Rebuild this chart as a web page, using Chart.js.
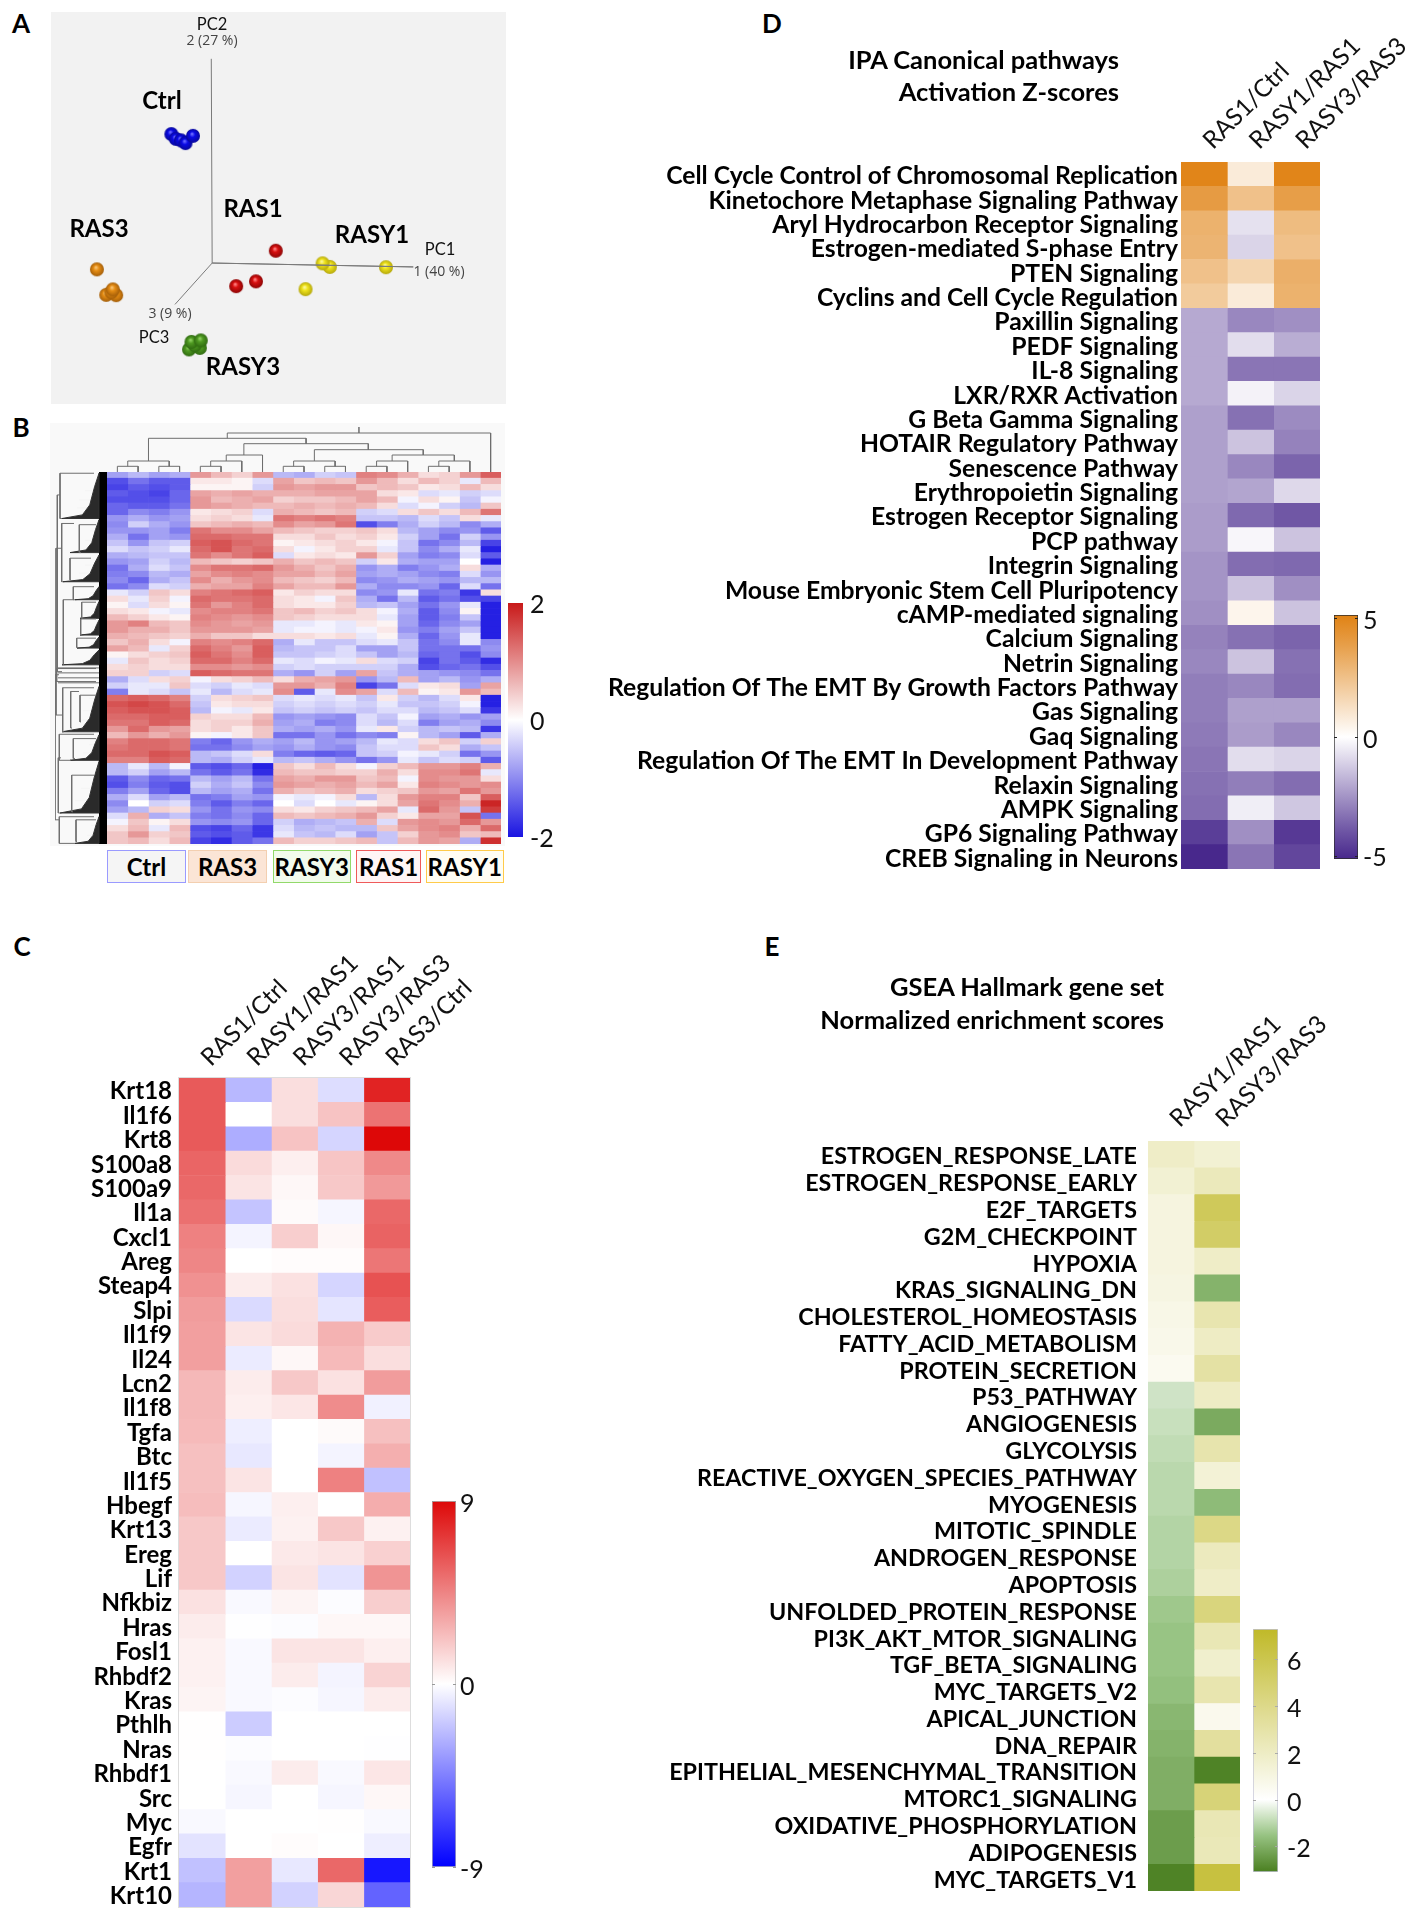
<!DOCTYPE html>
<html>
<head>
<meta charset="utf-8">
<title>Figure panels</title>
<script src="https://cdn.jsdelivr.net/npm/chart.js@4"></script>
<style>
  html, body { margin: 0; background: #fff; }
  #page { position: relative; width: 1414px; height: 1920px; overflow: hidden; font-family: Lato, sans-serif; color: #000; }
  #page canvas { position: absolute; display: block; }
  .lbl { position: absolute; white-space: nowrap; line-height: 1; }
  .box { position: absolute; box-sizing: border-box; border-width: 1.5px; border-style: solid; }
</style>
</head>
<body>
<div id="page"></div>
<script>
// ── Panel A: PCA scores ────────────────────────────────────────────────────
const pcaCtrl  = [[-13.6,43],[-12.1,41.4],[-10.4,40.9],[-8.9,40],[-6.4,42.4]];
const pcaRas1  = [[21.2,4.1],[8,-7.7],[14.6,-6.1]];
const pcaRasy1 = [[39.2,-1.3],[36.8,-0.1],[57.9,-1.4],[31.1,-8.7]];
const pcaRas3  = [[-38.4,-2.1],[-35.3,-10.6],[-32,-10.7],[-33.6,-9.7],[-33.1,-8.8]];
const pcaRasy3 = [[-7.7,-28.8],[-4.1,-28.3],[-5.8,-27.4],[-6.9,-26.3],[-3.8,-25.8]];
const pcaAxes  = [[-0.3,68.1],[0,0],[67,-1.3],[0,0],[-12.4,-13.8]];

// ── Panel B: clustered expression heatmap (z-score x10, one list per row) ──
const bGroups = ['Ctrl','RAS3','RASY3','RAS1','RASY1'];
const bRows = [
  [-8,-6,-8,-7,9,6,4,9,-6,-7,-4,-5,11,10,7,3,4,9,14],
  [-15,-12,-14,-14,2,2,1,-3,8,5,6,5,9,6,3,6,4,-2,6],
  [-16,-14,-15,-14,1,1,1,-4,9,8,9,9,5,6,5,2,3,6,3],
  [-14,-15,-16,-13,8,7,8,7,7,7,8,8,8,3,2,-3,-2,-4,-3],
  [-15,-15,-15,-13,9,6,7,8,4,5,5,6,8,6,-1,3,1,-5,-1],
  [-13,-14,-14,-12,9,8,7,6,6,7,6,7,6,3,-3,-1,-4,-6,5],
  [-13,-10,-11,-9,2,3,4,-3,7,6,5,6,-4,-3,3,5,3,6,12],
  [-9,-7,-9,-8,3,4,3,-2,12,11,12,11,-5,-5,-6,-3,-5,3,-2],
  [-10,-4,-7,-9,5,6,7,6,10,8,9,12,-15,-11,-7,-4,-6,-10,-7],
  [-9,-9,-8,-11,12,10,10,8,6,5,4,4,5,3,-6,-8,-10,-9,-14],
  [-7,-12,-8,-9,13,13,12,12,3,3,5,3,4,2,-4,-8,-12,-4,-9],
  [-5,-9,-5,-4,14,15,13,12,1,2,3,4,2,-1,-5,-12,-10,-6,-16],
  [-3,-5,-4,-2,13,15,12,13,3,-1,2,4,4,-2,-5,-10,-7,-2,-19],
  [-7,-6,-5,-5,12,10,12,14,-3,2,3,2,9,4,-8,-11,-10,-3,-14],
  [-9,-8,-4,-6,6,5,4,5,7,5,6,5,-4,2,-7,-8,-8,0,-19],
  [-12,-7,-3,-5,10,12,12,13,9,7,5,7,-9,-7,-11,-9,-7,3,-7],
  [-11,-10,-6,-7,8,10,11,10,8,8,6,8,-8,-7,-8,-10,-11,-3,-9],
  [-10,-13,-7,-5,10,7,9,10,6,5,4,6,-10,-9,-7,-8,-9,-6,-6],
  [-12,-10,-3,-4,7,8,8,11,8,6,6,9,-7,-10,-10,-9,-13,-3,-12],
  [-2,-4,5,3,11,12,13,14,2,4,3,3,-10,-9,-2,-12,-11,-17,3],
  [3,-2,4,-1,13,12,12,13,3,2,-1,5,-7,-12,-6,-14,-12,-15,-16],
  [1,-3,3,1,12,9,11,13,3,2,2,4,-6,-5,-8,-12,-9,-2,-19],
  [3,2,-1,-2,10,11,11,12,5,6,4,5,3,-1,-7,-14,-10,1,-19],
  [6,4,2,1,11,10,9,10,5,4,3,3,3,-2,-8,-14,-11,-5,-19],
  [9,11,6,5,10,9,8,9,-2,-2,-1,-2,2,1,-8,-13,-10,-8,-19],
  [9,7,7,5,9,9,9,8,-2,-1,-1,-2,-1,2,-9,-11,-8,-5,-19],
  [7,6,5,4,7,5,5,3,3,3,2,3,-2,1,-7,-13,-9,-2,-19],
  [5,7,3,-1,11,10,11,13,-7,-2,-5,-5,-3,-2,-5,-12,-10,-2,-10],
  [8,6,-2,4,13,11,9,14,-6,-5,-5,-3,-8,-8,-5,-12,-12,-12,-9],
  [1,3,4,5,14,12,10,14,-5,-5,-4,-3,-5,-8,-6,-13,-12,-15,-10],
  [-2,5,3,4,13,13,11,13,-2,-3,-1,-2,3,-3,-4,-16,-12,-14,-18],
  [3,4,3,3,10,10,9,10,-4,-3,-4,-4,-4,-4,-7,-15,-13,-12,-15],
  [4,4,-4,-3,14,13,12,12,-7,-9,-4,-8,8,-5,-7,-8,-9,-10,-12],
  [-7,-3,3,4,-1,3,4,6,3,7,8,9,-9,-6,6,-8,-6,-9,-7],
  [-4,-2,-2,5,-3,-4,-2,-3,9,9,7,11,-16,-12,-3,2,3,-8,8],
  [-11,-2,-3,-5,-2,-6,-3,-2,10,-14,-2,10,8,-3,6,1,2,9,6],
  [13,14,13,11,-4,3,4,5,-3,-2,-3,-2,-5,2,-4,-6,-3,2,-19],
  [15,16,15,13,-5,2,3,3,-4,-3,-4,-3,-4,-2,-5,-5,-4,-1,-19],
  [14,15,15,14,-6,-1,-2,2,-5,-4,-5,-4,-5,-3,-3,-6,-5,-3,-17],
  [13,13,14,14,4,3,3,6,-9,-8,-9,-10,-3,-5,-1,-8,-7,-9,-8],
  [12,12,14,13,3,4,4,7,-8,-7,-11,-10,-3,-6,-3,-11,-8,-7,-10],
  [9,13,9,8,3,4,2,5,-7,-8,-7,-9,-2,2,-4,-6,-5,-6,-17],
  [6,9,7,9,1,-1,2,5,-12,-12,-9,-12,-10,-11,1,-6,-8,-14,-7],
  [11,13,13,12,-11,-13,-9,-7,-8,-6,-9,-8,-6,-2,-3,3,5,-4,4],
  [12,13,13,12,-12,-12,-10,-8,-9,-7,-9,-10,-5,-3,-3,5,3,-7,-5],
  [13,13,15,14,-6,-5,-3,3,-11,-13,-14,-13,-5,-4,-1,-2,-4,-12,-9],
  [11,11,14,13,-6,-7,-4,-2,-6,-5,-7,-9,-12,-9,-2,-5,-3,-4,-14],
  [-6,-2,-6,-1,-14,-15,-13,-19,5,3,6,3,-1,4,6,9,9,11,7],
  [-6,-4,-8,-6,-12,-14,-12,-18,6,5,5,4,4,7,3,10,10,12,-2],
  [-14,-10,-13,-12,-6,-8,-6,-12,8,7,9,9,5,6,-1,10,9,9,3],
  [-15,-11,-14,-15,-4,-7,-5,-10,9,8,7,8,6,8,2,11,10,9,10],
  [-11,-8,-13,-15,-6,-8,-7,-12,7,5,6,7,3,4,5,9,8,12,9],
  [-7,-3,-8,-6,-12,-11,-8,-9,-1,-2,-1,3,-6,3,9,11,11,5,14],
  [-10,0,-4,-3,-11,-14,-11,-13,0,-3,0,-2,1,3,8,12,10,7,19],
  [-8,-6,4,3,-9,-12,-9,-10,3,2,4,5,6,8,-2,13,9,-5,17],
  [-3,7,-7,-5,-11,-12,-10,-13,6,5,6,7,9,4,2,8,8,15,-12],
  [-1,5,1,3,-9,-10,-9,-13,-4,-7,-6,-5,7,-3,9,10,9,13,9],
  [3,6,-2,6,-15,-16,-13,-17,-3,-6,-5,-6,-6,5,8,10,11,7,13],
  [5,9,4,5,-14,-15,-14,-17,-2,-5,-6,-3,-8,-5,4,9,10,5,6],
  [5,6,3,6,-16,-18,-14,-12,6,4,4,5,6,-5,6,9,8,-7,18],
];
// sample tree: [x1, base1, x2, base2, height], x in columns
const bColTree = [
  [0.5,0,1.5,0,5.7],[2.5,0,3.5,0,5.7],[1,5.7,3,5.7,11],
  [4.5,0,5.5,0,5.7],[5,5.7,6.5,0,11],[5.75,11,7.5,0,17],
  [8.5,0,9.5,0,5.7],[10.5,0,11.5,0,5.7],[9,5.7,11,5.7,11],
  [12.5,0,13.5,0,5.7],[13,5.7,14.5,0,11],
  [15.5,0,16.5,0,5.7],[16,5.7,17.5,0,11],[13.75,11,16.75,11,17],
  [10,11,15.25,17,22.3],[6.6,17,12.6,22.3,28.3],[2,11,9.6,28.3,33.7],
  [5.8,33.7,18.5,0,39],[12.15,39,12.15,39,45],
];
// gene tree clusters: [height, first row, last row]
const bRowWedges = [[37,0.2,7.5],[29,7.7,13],[36,13.4,17.7],[24,18.5,20.6],[19,20.9,23.6],[19,23.9,26.3],
  [22,26.6,28.4],[37,28.7,31.1],[37,34.6,41.9],[29,42.4,46.5],[39,46.7,55],[24,55.6,59.9]];
// gene tree merges: [height, top row, bottom row, top arm end, bottom arm end]
const bRowBrackets = [[39,0.2,7.5,5,37],[37.3,8.3,17.7,25,36],[19.7,8.5,13,3,18],[29,13.9,17.4,8,28],[25.7,18.5,20.6,5,24],
  [17.3,21,23.6,3,16],[18.3,23.7,26.3,3,17],[22.3,26.8,28.3,3,21],[35.7,20.6,31,25,35],[42.3,31.7,33.8,3,3],
  [36.3,34.8,41.9,5,35],[28.3,35.4,41.3,20,27],[19,36,40.3,3,18],[39.7,42.3,46.5,5,28],[25.7,43,46.2,3,24],
  [40.7,46.1,55,38,39],[27.3,48.9,54.8,5,26],[39.7,55.6,59.9,5,24],[23,56.1,59.6,3,22],[44,32.7,56.1,40,40],
  [41.7,3.7,32.2,39,37],[43,12.3,39.2,37,36]];
const bLooseLeaves = [31.6,32.4,33.2,34];
// pale gaps between gene branches: [row, from height, to height]
const bRowGaps = [[3,3,14],[4.5,5,20],[5.8,8,22],[9.5,2,9],[11,4,14],[15,4,14],[16.3,8,20],[19.5,2,9],[22,2,7],[25,2,7],[27.6,2,8],
  [36.5,3,10],[38.5,5,16],[40,8,20],[44,2,10],[45.3,6,16],[49,3,12],[51,5,18],[53,8,24],[57,2,8],[58.6,4,12]];

// ── Panel C: log2 fold change ──────────────────────────────────────────────
const cCols = ['RAS1/Ctrl','RASY1/RAS1','RASY3/RAS1','RASY3/RAS3','RAS3/Ctrl'];
const cGenes = ['Krt18','Il1f6','Krt8','S100a8','S100a9','Il1a','Cxcl1','Areg','Steap4','Slpi','Il1f9','Il24','Lcn2','Il1f8','Tgfa','Btc','Il1f5','Hbegf','Krt13','Ereg','Lif','Nfkbiz','Hras','Fosl1','Rhbdf2','Kras','Pthlh','Nras','Rhbdf1','Src','Myc','Egfr','Krt1','Krt10'];
const cValues = [
  [6,-2.5,1.2,-1.2,8],[6,0,1.2,2.2,5.1],[6,-2.9,2.2,-1.5,9],[5.6,1.3,0.6,2.1,4.3],[5.5,1,0.3,2,3.7],
  [5.2,-2.1,0.2,-0.3,5.5],[4.6,-0.4,1.8,0.3,5.7],[4.4,0,0.1,0.1,5],[4,0.7,1.1,-1.5,6.3],[3.6,-1.3,1.2,-0.9,5.9],
  [3.5,1,1.3,2.8,1.9],[3.5,-0.7,0.3,2.5,1.2],[2.6,0.7,2,1.1,3.6],[2.6,0.6,0.9,4.2,-0.5],[2.5,-0.6,0,0.2,2.3],
  [2.3,-0.8,0,-0.4,2.9],[2.3,1,0,4.6,-2.2],[2.4,-0.3,0.6,0,3],[2,-0.7,0.5,2,0.5],[2,0,0.8,1,1.7],
  [2,-1.6,1,-1,3.9],[1.1,-0.2,0.4,-0.1,1.8],[0.7,-0.05,-0.1,0.3,0.3],[0.5,-0.2,1,1,0.6],[0.5,-0.2,0.7,-0.4,1.6],
  [0.4,-0.2,-0.1,-0.3,0.7],[0.05,-1.8,0,0,0],[0.05,-0.1,0,0,-0.02],[0,-0.2,0.7,-0.2,0.9],[0,-0.3,0,-0.3,0.3],
  [-0.2,0,0,0.05,-0.2],[-1,0,0.1,0,-0.6],[-2.2,3.5,-0.8,5.5,-8.2],[-2.6,3.5,-1.6,1.5,-5.5],
];

// ── Panel D: IPA activation z-scores ───────────────────────────────────────
const dCols = ['RAS1/Ctrl','RASY1/RAS1','RASY3/RAS3'];
const dPathways = ['Cell Cycle Control of Chromosomal Replication','Kinetochore Metaphase Signaling Pathway','Aryl Hydrocarbon Receptor Signaling','Estrogen-mediated S-phase Entry','PTEN Signaling','Cyclins and Cell Cycle Regulation','Paxillin Signaling','PEDF Signaling','IL-8 Signaling','LXR/RXR Activation','G Beta Gamma Signaling','HOTAIR Regulatory Pathway','Senescence Pathway','Erythropoietin Signaling','Estrogen Receptor Signaling','PCP pathway','Integrin Signaling','Mouse Embryonic Stem Cell Pluripotency','cAMP-mediated signaling','Calcium Signaling','Netrin Signaling','Regulation Of The EMT By Growth Factors Pathway','Gas Signaling','Gaq Signaling','Regulation Of The EMT In Development Pathway','Relaxin Signaling','AMPK Signaling','GP6 Signaling Pathway','CREB Signaling in Neurons'];
const dValues = [
  [4.9,0.8,4.9],[4,2.5,3.9],[3.1,-0.7,2.7],[3,-1,2.5],[2.5,1.7,3.2],[2.1,0.8,3.1],
  [-2,-2.8,-2.6],[-2,-0.8,-1.9],[-2,-3.2,-3.2],[-2,-0.3,-1],[-2.2,-3.3,-2.7],[-2.2,-1.4,-2.9],
  [-2.2,-2.8,-3.6],[-2.2,-2.1,-0.9],[-2.3,-3.5,-3.9],[-2.3,-0.2,-1.4],[-2.5,-3.4,-3.5],[-2.5,-1.4,-2.6],
  [-2.6,0.4,-1.4],[-2.9,-3.3,-3.6],[-2.8,-1.4,-3.3],[-3,-2.8,-3.4],[-3,-2.2,-2.2],[-3.1,-2.3,-2.8],
  [-3.2,-0.8,-1],[-3.3,-3,-3.4],[-3.4,-0.4,-1.3],[-4.5,-2.6,-4.6],[-5,-3.2,-4.3],
];

// ── Panel E: GSEA normalized enrichment scores ─────────────────────────────
const eCols = ['RASY1/RAS1','RASY3/RAS3'];
const eSets = ['ESTROGEN_RESPONSE_LATE','ESTROGEN_RESPONSE_EARLY','E2F_TARGETS','G2M_CHECKPOINT','HYPOXIA','KRAS_SIGNALING_DN','CHOLESTEROL_HOMEOSTASIS','FATTY_ACID_METABOLISM','PROTEIN_SECRETION','P53_PATHWAY','ANGIOGENESIS','GLYCOLYSIS','REACTIVE_OXYGEN_SPECIES_PATHWAY','MYOGENESIS','MITOTIC_SPINDLE','ANDROGEN_RESPONSE','APOPTOSIS','UNFOLDED_PROTEIN_RESPONSE','PI3K_AKT_MTOR_SIGNALING','TGF_BETA_SIGNALING','MYC_TARGETS_V2','APICAL_JUNCTION','DNA_REPAIR','EPITHELIAL_MESENCHYMAL_TRANSITION','MTORC1_SIGNALING','OXIDATIVE_PHOSPHORYLATION','ADIPOGENESIS','MYC_TARGETS_V1'];
const eValues = [
  [1.9,1.5],[1.5,2.3],[1.1,5.6],[1.1,5.2],[1.1,1.9],[1,-1.9],[0.8,2.7],[0.7,2],[0.5,3.1],[-0.7,2],
  [-0.8,-2.1],[-0.9,2.8],[-1,1.4],[-1,-1.7],[-1.1,4.1],[-1.1,2.2],[-1.2,1.9],[-1.4,4.4],[-1.5,2.5],[-1.5,1.7],
  [-1.6,2.7],[-1.8,0.6],[-1.9,3.3],[-2,-3],[-2,4.6],[-2.4,2.5],[-2.4,2.4],[-3,6.5],
];

// Colour ramps: ascending [value, [r,g,b]] stops
const WHITE = [255,255,255];
const bRamp = [[-20,[26,20,225]],[0,WHITE],[20,[200,25,25]]];
const cRamp = [[-9,[0,0,255]],[0,WHITE],[9,[221,8,8]]];
const dRamp = [[-5,[72,40,140]],[0,WHITE],[5,[224,130,20]]];
const eRamp = [[-3.1,[74,127,32]],[-1.5,[152,196,132]],[0,WHITE],[7.3,[192,185,40]]];

function rampColor(ramp, v) {
  const val = Math.max(ramp[0][0], Math.min(ramp[ramp.length - 1][0], v));
  let i = 0;
  while (i < ramp.length - 2 && val > ramp[i + 1][0]) i++;
  const [v0, c0] = ramp[i], [v1, c1] = ramp[i + 1];
  const t = (val - v0) / (v1 - v0);
  const c = c0.map((ch, k) => Math.round(ch + (c1[k] - ch) * t));
  return `rgb(${c[0]},${c[1]},${c[2]})`;
}

const page = document.getElementById('page');
const BOLD = { family: 'Lato', weight: 'bold' };

function addCanvas(left, top, width, height) {
  const cv = document.createElement('canvas');
  cv.width = width; cv.height = height;
  cv.style.cssText = `left:${left}px;top:${top}px;width:${width}px;height:${height}px`;
  page.appendChild(cv);
  return cv;
}

function label(text, x, y, opts = {}) {
  const el = document.createElement('div');
  el.className = 'lbl';
  el.textContent = text;
  const tx = opts.align === 'right' ? '-100%' : opts.align === 'left' ? '0' : '-50%';
  el.style.cssText = `left:${x}px;top:${y}px;transform:translate(${tx},-50%);font-size:${opts.size || 23}px;` +
    `font-weight:${opts.weight || 700};color:${opts.color || '#000'};font-family:${opts.family || 'Lato'},sans-serif`;
  page.appendChild(el);
}

const baseOpts = {
  responsive: false, animation: false, events: [],
  plugins: { legend: { display: false }, tooltip: { enabled: false } },
};
const noPadding = { autoPadding: false, padding: 0 };
const noGrid = { display: false, drawTicks: false };

// Heatmap as stacked horizontal bars: one dataset per column, one bar per row
function heatDatasets(rows, nCols, ramp) {
  const sets = [];
  for (let c = 0; c < nCols; c++) {
    sets.push({
      data: rows.map(() => 1),
      backgroundColor: rows.map(r => rampColor(ramp, r[c])),
      borderWidth: 0, barPercentage: 1, categoryPercentage: 1,
    });
  }
  return sets;
}

const framePlugin = color => ({
  id: 'frame',
  afterDatasetsDraw(chart) {
    const { ctx, chartArea: a } = chart;
    ctx.save();
    ctx.strokeStyle = color;
    ctx.lineWidth = 1;
    ctx.strokeRect(a.left - 0.5, a.top - 0.5, a.right - a.left + 1, a.bottom - a.top + 1);
    ctx.restore();
  },
});

// small notches on the colour bar edges, at the axis ticks
const notchPlugin = color => ({
  id: 'notches',
  afterDatasetsDraw(chart) {
    const { ctx, chartArea: a, scales: { y } } = chart;
    ctx.save();
    ctx.strokeStyle = color;
    ctx.lineWidth = 1;
    y.ticks.forEach(t => {
      const py = Math.round(y.getPixelForValue(t.value)) + 0.5;
      ctx.beginPath();
      ctx.moveTo(a.left, py); ctx.lineTo(a.left + 3, py);
      ctx.moveTo(a.right - 3, py); ctx.lineTo(a.right, py);
      ctx.stroke();
    });
    ctx.restore();
  },
});

function labeledHeatmap(o) {
  const { x0, y0, w, h, yw, xh, pr, cols, rows, values, ramp, yFontSize, yPad, yOffset, xFontSize, xPad } = o;
  const cv = addCanvas(x0 - yw, y0 - xh, yw + w + pr, xh + h + 4);
  new Chart(cv, {
    type: 'bar',
    data: { labels: rows, datasets: heatDatasets(values, cols.length, ramp) },
    plugins: o.frame ? [framePlugin(o.frame)] : [],
    options: {
      ...baseOpts,
      indexAxis: 'y',
      layout: { autoPadding: false, padding: { left: 0, top: 0, right: pr, bottom: 4 } },
      scales: {
        x: {
          type: 'linear', position: 'top', stacked: true, min: 0, max: cols.length,
          grid: noGrid, border: { display: false },
          afterBuildTicks: s => { s.ticks = cols.map((_, i) => ({ value: i + 0.5 })); },
          afterFit: s => { s.height = xh; s.paddingLeft = 0; s.paddingRight = 0; },
          ticks: {
            autoSkip: false, minRotation: 45, maxRotation: 45, padding: xPad, labelOffset: 24,
            color: '#111', font: { family: 'Lato', size: xFontSize, weight: 'normal' },
            callback: (v, i) => cols[i],
          },
        },
        y: {
          stacked: true,
          grid: noGrid, border: { display: false },
          afterFit: s => { s.width = yw; s.paddingTop = 0; s.paddingBottom = 0; },
          ticks: { autoSkip: false, padding: yPad, labelOffset: yOffset, color: '#000', font: { ...BOLD, size: yFontSize } },
        },
      },
    },
  });
}

// Colour bar: one floating bar filled from the ramp
function colorBar(o) {
  const { x0, y0, w, h, min, max, ticks, ramp, border, pad, labelOffset, fontSize } = o;
  const cv = addCanvas(x0, y0 - 16, w + 44, h + 32);
  new Chart(cv, {
    type: 'bar',
    data: {
      labels: [''],
      datasets: [{
        data: [[min, max]],
        barPercentage: 1, categoryPercentage: 1,
        borderWidth: border ? 1 : 0, borderColor: border || 'transparent', borderSkipped: false,
        backgroundColor(ctx) {
          const s = ctx.chart.scales.y;
          const top = s ? s.getPixelForValue(max) : NaN;
          const bottom = s ? s.getPixelForValue(min) : NaN;
          if (!Number.isFinite(top) || !Number.isFinite(bottom)) return '#fff';
          const g = ctx.chart.ctx.createLinearGradient(0, top, 0, bottom);
          const span = max - min;
          [max, 0.75 * max, 0.5 * max, 0.25 * max, 0, 0.25 * min, 0.5 * min, 0.75 * min, min].forEach(v => {
            g.addColorStop((max - v) / span, rampColor(ramp, v));
          });
          return g;
        },
      }],
    },
    plugins: o.notch ? [notchPlugin(o.notch)] : [],
    options: {
      ...baseOpts,
      layout: { autoPadding: false, padding: { left: 0, right: 0, top: 16, bottom: 16 } },
      scales: {
        x: { display: false },
        y: {
          position: 'right', min, max,
          grid: noGrid, border: { display: false },
          afterBuildTicks: s => { s.ticks = ticks.map(value => ({ value })); },
          afterFit: s => { s.width = 44; s.paddingTop = 0; s.paddingBottom = 0; },
          ticks: {
            autoSkip: false, padding: pad, labelOffset, color: '#111',
            font: { family: 'Lato', size: fontSize, weight: 'normal' },
            callback: v => String(v),
          },
        },
      },
    },
  });
}

// ── Panel letters ──────────────────────────────────────────────────────────
[['A',21,23],['B',21,427],['C',22,946],['D',772,23],['E',772,946]].forEach(([t, x, y]) => label(t, x, y, { size: 26 }));

// ── Panel A ────────────────────────────────────────────────────────────────
function sphere(base, light, dark, r) {
  const s = document.createElement('canvas');
  s.width = s.height = r * 2 + 2;
  const c = s.getContext('2d');
  const m = r + 1;
  const g = c.createRadialGradient(m - 1, m - 2, 0.5, m, m, r);
  g.addColorStop(0, light);
  g.addColorStop(0.35, base);
  g.addColorStop(1, dark);
  c.fillStyle = g;
  c.beginPath(); c.arc(m, m, r, 0, Math.PI * 2); c.fill();
  return s;
}
const toXY = pts => pts.map(([x, y]) => ({ x, y }));
const pcaSet = (pts, img) => ({ data: toXY(pts), pointStyle: img, pointRadius: 7, showLine: false });

const pcaCv = addCanvas(51, 12, 455, 392);
pcaCv.style.background = '#f2f2f2';
new Chart(pcaCv, {
  type: 'scatter',
  data: {
    datasets: [
      { data: toXY(pcaAxes), showLine: true, borderColor: '#7a7a7a', borderWidth: 1, pointRadius: 0 },
      pcaSet(pcaCtrl, sphere('#0a0ae6', '#6a6aff', '#07079a', 7)),
      pcaSet(pcaRas1, sphere('#d81010', '#ff8080', '#8e0606', 7)),
      pcaSet(pcaRasy1, sphere('#f0e41c', '#fbf7a0', '#b5a80c', 7)),
      pcaSet(pcaRas3, sphere('#e68d14', '#f8c270', '#a45e08', 7)),
      pcaSet(pcaRasy3, sphere('#4f9a22', '#8fd060', '#2f6a10', 7)),
    ],
  },
  options: {
    ...baseOpts,
    layout: noPadding,
    scales: {
      x: { display: false, min: -53.7, max: 97.9 },
      y: { display: false, min: -47, max: 83.7 },
    },
  },
});
[['Ctrl',162,99.5],['RAS1',253,208],['RAS3',99,228],['RASY1',372,234],['RASY3',243,366]].forEach(([t, x, y]) => label(t, x, y, { size: 24 }));
[['PC2',212,24],['PC1',440,249],['PC3',154,337]].forEach(([t, x, y]) => label(t, x, y, { size: 16.5, weight: 400, color: '#111' }));
[['2 (27 %)',212,40],['1 (40 %)',439,271],['3 (9 %)',170,313]].forEach(([t, x, y]) => label(t, x, y, { size: 14, weight: 400, color: '#444', family: 'Open Sans' }));

// ── Panel B ────────────────────────────────────────────────────────────────
const bBg = document.createElement('div');
bBg.className = 'box';
bBg.style.cssText = 'left:50px;top:423px;width:455px;height:423px;background:#f9f9f9;border:0';
page.appendChild(bBg);

const treeLine = { showLine: true, pointRadius: 0, borderColor: '#6e6e6e', borderWidth: 1, spanGaps: false };

const colTreePts = [];
bColTree.forEach(([x1, b1, x2, b2, h]) => {
  colTreePts.push({ x: x1, y: b1 }, { x: x1, y: h }, { x: x2, y: h }, { x: x2, y: b2 }, { x: NaN, y: NaN });
});
new Chart(addCanvas(107, 423, 394, 49), {
  type: 'scatter',
  data: { datasets: [{ data: colTreePts, ...treeLine }] },
  options: { ...baseOpts, layout: noPadding, scales: { x: { display: false, min: 0, max: 19 }, y: { display: false, min: 0, max: 49 } } },
});

const rowTreeSets = [];
const rowTreePts = [];
bRowBrackets.forEach(([h, t, b, a1, a2]) => {
  rowTreePts.push({ x: a1, y: t }, { x: h, y: t }, { x: h, y: b }, { x: a2, y: b }, { x: NaN, y: NaN });
});
bLooseLeaves.forEach(r => rowTreePts.push({ x: 41, y: r }, { x: 0, y: r }, { x: NaN, y: NaN }));
rowTreeSets.push({ data: rowTreePts, ...treeLine });
bRowWedges.forEach(([h, t, b]) => {
  const d = b - t;
  rowTreeSets.push({
    data: [{ x: 0, y: t }, { x: h * 0.12, y: t + d * 0.3 }, { x: h * 0.25, y: t + d * 0.7 }, { x: h * 0.45, y: b - d * 0.08 }, { x: h, y: b }, { x: 0, y: b }, { x: 0, y: t }],
    showLine: true, pointRadius: 0, borderColor: '#333', borderWidth: 1, fill: 'shape', backgroundColor: '#2a2a2a',
  });
});
const gapPts = [];
bRowGaps.forEach(([r, a, b]) => gapPts.push({ x: a, y: r }, { x: b, y: r }, { x: NaN, y: NaN }));
rowTreeSets.push({ data: gapPts, showLine: true, pointRadius: 0, borderColor: '#f4f4f4', borderWidth: 1, spanGaps: false });
rowTreeSets.push({
  data: [{ x: 0, y: 0 }, { x: -8, y: 0 }, { x: -8, y: 60 }, { x: 0, y: 60 }, { x: 0, y: 0 }],
  showLine: true, pointRadius: 0, borderWidth: 0, fill: 'shape', backgroundColor: '#000',
});
new Chart(addCanvas(55, 472, 52, 372), {
  type: 'scatter',
  data: { datasets: rowTreeSets },
  options: { ...baseOpts, layout: noPadding, scales: { x: { display: false, reverse: true, min: -8, max: 44 }, y: { display: false, reverse: true, min: 0, max: 60 } } },
});

new Chart(addCanvas(107, 472, 394, 372), {
  type: 'bar',
  data: { labels: bRows.map((_, i) => i), datasets: heatDatasets(bRows, 19, bRamp) },
  options: {
    ...baseOpts, indexAxis: 'y', layout: noPadding,
    scales: { x: { display: false, stacked: true, min: 0, max: 19 }, y: { display: false, stacked: true } },
  },
});

colorBar({ x0: 507.5, y0: 603, w: 15.5, h: 234, min: -2, max: 2, ticks: [-2, 0, 2],
  ramp: [[-2, bRamp[0][1]], [0, WHITE], [2, bRamp[2][1]]], pad: 7, labelOffset: 2, fontSize: 25 });

const bBoxes = [[107,79,'#f5f5f5','#9a9aff'],[188,79,'#fbe5d6','#f3cfb0'],[272.5,78.5,'#f2fbec','#92d96a'],[356,65,'#fff5f5','#ef5a5a'],[426,77.5,'#fffdf3','#ffcb4a']];
bBoxes.forEach(([x, w, fill, line], i) => {
  const b = document.createElement('div');
  b.className = 'box';
  b.style.cssText = `left:${x}px;top:850px;width:${w}px;height:33px;background:${fill};border-color:${line}`;
  page.appendChild(b);
  label(bGroups[i], x + w / 2, 867, { size: 24 });
});

// ── Panel C ────────────────────────────────────────────────────────────────
labeledHeatmap({ x0: 179, y0: 1078, w: 231, h: 829, yw: 170, xh: 170, pr: 110, cols: cCols, rows: cGenes, values: cValues, ramp: cRamp,
  yFontSize: 24, yPad: 7, yOffset: 1.5, xFontSize: 24.5, xPad: 6, frame: '#dddddd' });
colorBar({ x0: 432, y0: 1501, w: 24, h: 366, min: -9, max: 9, ticks: [-9, 0, 9], ramp: cRamp, border: '#b5b5b5', notch: '#999', pad: 4, labelOffset: 2.5, fontSize: 25 });

// ── Panel D ────────────────────────────────────────────────────────────────
labeledHeatmap({ x0: 1181, y0: 162, w: 139, h: 707, yw: 640, xh: 150, pr: 94, cols: dCols, rows: dPathways, values: dValues, ramp: dRamp,
  yFontSize: 24.7, yPad: 3, yOffset: 2, xFontSize: 24.5, xPad: 7 });
label('IPA Canonical pathways', 1119, 60, { align: 'right', size: 25.5 });
label('Activation Z-scores', 1119, 92, { align: 'right', size: 25.5 });
colorBar({ x0: 1334, y0: 615, w: 24, h: 244, min: -5.13, max: 5.13, ticks: [-5, 0, 5], ramp: dRamp, border: '#2a2a2a', notch: '#222', pad: 5, labelOffset: 2.5, fontSize: 25 });

// ── Panel E ────────────────────────────────────────────────────────────────
labeledHeatmap({ x0: 1147.5, y0: 1141, w: 92.5, h: 750, yw: 540, xh: 170, pr: 170, cols: eCols, rows: eSets, values: eValues, ramp: eRamp,
  yFontSize: 23.3, yPad: 11, yOffset: 2.5, xFontSize: 24.5, xPad: 8 });
label('GSEA Hallmark gene set', 1164, 987, { align: 'right', size: 25.5 });
label('Normalized enrichment scores', 1164, 1020, { align: 'right', size: 25.5 });
colorBar({ x0: 1253, y0: 1629, w: 25, h: 243, min: -3.1, max: 7.3, ticks: [-2, 0, 2, 4, 6], ramp: eRamp, border: '#c3c3d6', notch: '#aaa', pad: 9, labelOffset: 3, fontSize: 25 });
</script>
</body>
</html>
